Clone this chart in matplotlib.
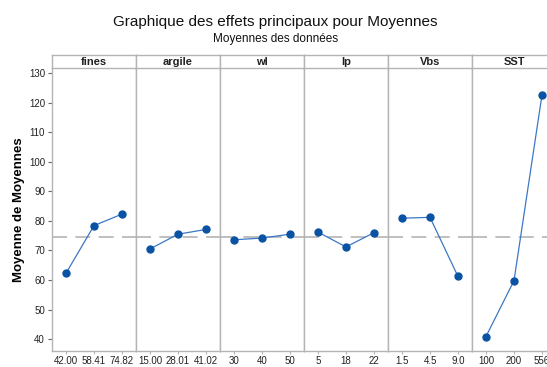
import matplotlib
matplotlib.use("Agg")
import matplotlib.pyplot as plt

plt.rcParams['font.family'] = ['Liberation Sans Narrow', 'Liberation Sans', 'DejaVu Sans']

factors = ['fines', 'argile', 'wl', 'lp', 'Vbs', 'SST']
levels = [
    ['42.00', '58.41', '74.82'],
    ['15.00', '28.01', '41.02'],
    ['30', '40', '50'],
    ['5', '18', '22'],
    ['1.5', '4.5', '9.0'],
    ['100', '200', '556'],
]
fines_means = [62.3, 78.4, 82.3]
argile_means = [70.5, 75.5, 77.1]
wl_means = [73.6, 74.2, 75.5]
lp_means = [76.2, 71.2, 76.0]
vbs_means = [80.9, 81.2, 61.2]
sst_means = [40.9, 59.8, 122.6]
grand_mean = 74.4
yticks = [40, 50, 60, 70, 80, 90, 100, 110, 120, 130]

means = [fines_means, argile_means, wl_means, lp_means, vbs_means, sst_means]

W, H = 547, 367
fig = plt.figure(figsize=(W / 100, H / 100), dpi=100)

grey = '#b4b4b4'
line_col = '#3b78c4'
dot_col = '#0a52a3'

x0, pw = 52, 84
top, bot, head = 68, 351, 13

for i, (name, labs, vals) in enumerate(zip(factors, levels, means)):
    left = (x0 + i * pw) / W
    ax = fig.add_axes([left, (H - bot) / H, pw / W, (bot - top) / H])
    ax.plot(range(3), vals, color=line_col, lw=0.9, marker='o', ms=5,
            mfc=dot_col, mec=dot_col, zorder=3)
    ax.axhline(grand_mean, color=grey, lw=1.2, dashes=(9, 5), zorder=1)
    ax.set_xlim(-0.5, 2.5)
    ax.set_ylim(36, 131.7)
    ax.set_xticks(range(3))
    ax.set_xticklabels(labs, fontsize=7, color='#222222')
    ax.tick_params(axis='x', length=2, color=grey, pad=1.5)
    for s in ax.spines.values():
        s.set_color(grey)
        s.set_linewidth(1.0)
    ax.spines['top'].set_visible(False)
    if i == 0:
        ax.set_yticks(yticks)
        ax.tick_params(axis='y', length=3, color='#666666', labelsize=7,
                       labelcolor='#222222', pad=2)
        ax.set_ylabel('Moyenne de Moyennes', fontsize=9.5, fontweight='bold',
                      family=['Liberation Sans', 'DejaVu Sans'])
        ax.yaxis.set_label_coords(-27 / pw, 0.5)
    else:
        ax.set_yticks([])

    # factor name strip above each panel
    hx = fig.add_axes([left, (H - top) / H, pw / W, head / H])
    hx.set_xticks([])
    hx.set_yticks([])
    for s in hx.spines.values():
        s.set_color(grey)
        s.set_linewidth(1.0)
    hx.text(0.5, 0.45, name, ha='center', va='center', fontsize=8,
            fontweight='bold', color='#222222', transform=hx.transAxes)

fig.text(275 / W, 1 - 22 / H, 'Graphique des effets principaux pour Moyennes',
         ha='center', va='center', fontsize=11,
         family=['Liberation Sans', 'DejaVu Sans'], color='#111111')
fig.text(276 / W, 1 - 39 / H, 'Moyennes des données', ha='center', va='center',
         fontsize=8.5, family=['Liberation Sans', 'DejaVu Sans'], color='#111111')

fig.savefig('out.png', dpi=100)
